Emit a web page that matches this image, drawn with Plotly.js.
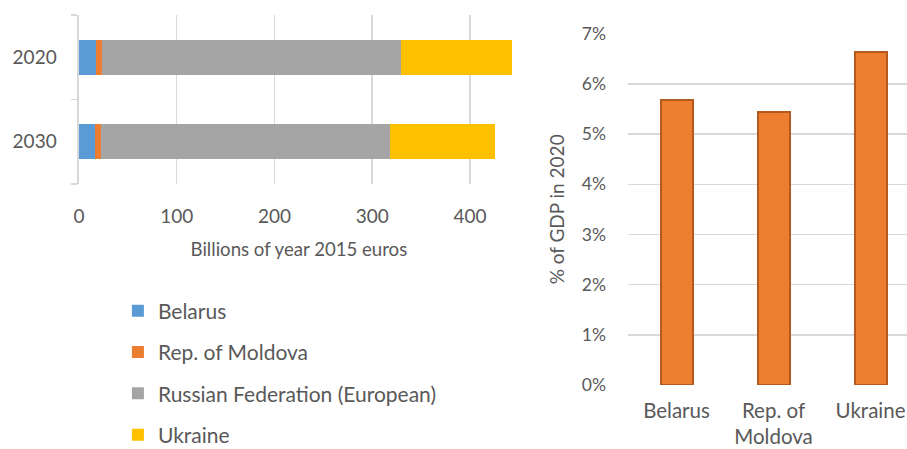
<!DOCTYPE html>
<html>
<head>
<meta charset="utf-8">
<script src="https://cdn.plot.ly/plotly-3.0.1.min.js"></script>
<style>html,body{margin:0;padding:0;background:#fff;}#chart{width:907px;height:449px;}</style>
</head>
<body>
<div id="chart"></div>
<script>
// Left chart: stacked horizontal bars (billions of year 2015 euros)
const years = ['2030', '2020'];
const belarus = [16.0, 17.7];
const moldova = [6.2, 6.2];
const russiaEU = [296.0, 305.5];
const ukraine = [107.4, 113.9];
const seriesNames = ['Belarus', 'Rep. of Moldova', 'Russian Federation (European)', 'Ukraine'];
const seriesColors = ['#5B9BD5', '#ED7D31', '#A5A5A5', '#FFC000'];

// Right chart: % of GDP in 2020
const countries = ['Belarus', 'Rep. of<br>Moldova', 'Ukraine'];
const gdpShare = [0.0568, 0.0544, 0.0663];

const FONT = 'Lato, "Liberation Sans", sans-serif';
const TXT = '#595959';
const GRID = '#D9D9D9';

const stackVals = [belarus, moldova, russiaEU, ukraine];
const traces = stackVals.map((vals, i) => ({
  type: 'bar', orientation: 'h',
  y: years, x: vals, name: seriesNames[i],
  marker: {color: seriesColors[i]},
  width: 0.41,
  legendgroup: 'g' + i,
  xaxis: 'x', yaxis: 'y',
  hoverinfo: 'x+name'
}));

traces.push({
  type: 'bar', x: countries, y: gdpShare,
  marker: {color: '#ED7D31', line: {color: '#B55A1E', width: 2}},
  width: 0.33, showlegend: false,
  xaxis: 'x2', yaxis: 'y2'
});

const layout = {
  width: 907, height: 449,
  margin: {l: 0, r: 0, t: 0, b: 0, autoexpand: false},
  paper_bgcolor: '#fff', plot_bgcolor: '#fff',
  font: {family: FONT, color: TXT, size: 17},
  barmode: 'stack',
  showlegend: true,
  legend: {
    x: 0.13, y: 0.3528, xanchor: 'left', yanchor: 'top',
    traceorder: 'grouped', tracegroupgap: 11,
    font: {family: FONT, size: 21, color: TXT}
  },
  xaxis: {
    domain: [0.0871, 0.572], range: [0, 450], dtick: 100,
    showgrid: true, gridcolor: GRID, gridwidth: 1.5, zeroline: false,
    showline: false, ticks: '', automargin: false,
    tickfont: {size: 19, color: TXT},
    ticklabelstandoff: 19,
    title: {text: 'Billions of year 2015 euros', font: {size: 18.6, color: TXT}, standoff: 16},
    anchor: 'y'
  },
  yaxis: {
    domain: [0.5902, 0.9666], type: 'category', range: [-0.5, 1.5],
    showgrid: false, zeroline: false, automargin: false,
    showline: true, linecolor: GRID, linewidth: 1.5,
    ticks: 'outside', tickson: 'boundaries', ticklen: 6, tickcolor: GRID, tickwidth: 1.5,
    tickfont: {size: 19, color: TXT},
    ticklabelstandoff: 17,
    anchor: 'x'
  },
  xaxis2: {
    domain: [0.6924, 1.0], range: [-0.5, 2.376], type: 'category',
    showgrid: false, zeroline: false, showline: false, ticks: '', automargin: false,
    tickfont: {size: 20.5, color: TXT},
    ticklabelstandoff: 11,
    anchor: 'y2'
  },
  yaxis2: {
    domain: [0.1425, 0.925], range: [0, 0.07], dtick: 0.01, tickformat: '.0%',
    showgrid: true, gridcolor: GRID, gridwidth: 1.5, zeroline: false, automargin: false,
    tickfont: {size: 17.5, color: TXT},
    ticklabelstandoff: 21,
    title: {text: '% of GDP in 2020', font: {size: 19, color: TXT}, standoff: 12},
    anchor: 'x2'
  }
};

Plotly.newPlot('chart', traces, layout, {displayModeBar: false, staticPlot: true});
</script>
</body>
</html>
